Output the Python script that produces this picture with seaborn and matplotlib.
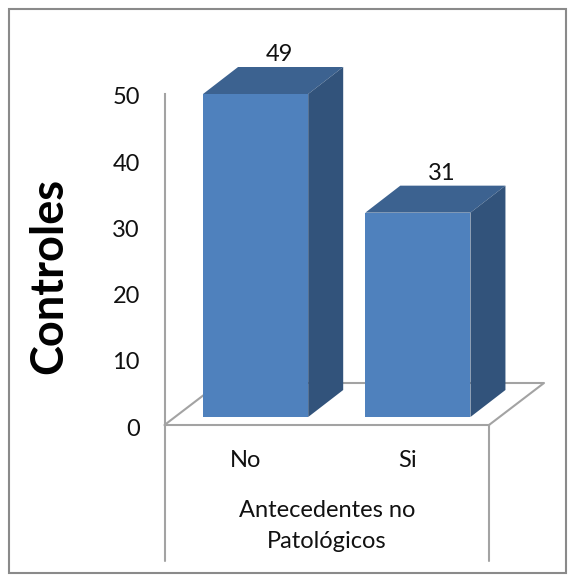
import matplotlib
matplotlib.use("Agg")
import matplotlib.pyplot as plt
from matplotlib.patches import Polygon, Rectangle
from matplotlib.transforms import ScaledTranslation
import seaborn as sns

categories = ["No", "Si"]
values = [49, 31]
axis_ticks = [0, 10, 20, 30, 40, 50]
x_title = "Antecedentes no\nPatológicos"
y_title = "Controles"

W, H = 572, 581
FRONT, TOP, SIDE = "#4F81BD", "#3C6290", "#32537B"
GRID = "#A3A3A3"
FRAME = "#8A8A8A"
TEXT = "#111111"

sns.set_theme(style="white")
plt.rcParams["font.family"] = ["Lato", "DejaVu Sans"]

fig = plt.figure(figsize=(W / 100, H / 100), dpi=100)
L, R, T, B = 164.5, 489.0, 94.0, 425.0
ax = fig.add_axes([L / W, 1 - B / H, (R - L) / W, (B - T) / H])

# Bars stand slightly behind the front edge of the floor
px_per_unit = (417 - 94) / 49
px_per_cat = (R - L) / 2
bar_shift = 10 / px_per_cat
sns.barplot(x=categories, y=values, ax=ax, color=FRONT, saturation=1, width=0.648,
            linewidth=0, zorder=3)
ax.set_xlim(-0.5 - bar_shift, 1.5 - bar_shift)
y0 = -(B - 417) / px_per_unit
ax.set_ylim(y0, 49)

# Oblique projection of the depth, expressed in axis units
dx = 35 / px_per_cat
dy = 27 / px_per_unit

xa, xb = ax.get_xlim()
floor_dx, floor_dy = 55 / px_per_cat, 42 / px_per_unit
ax.plot([xa, xa + floor_dx, xb + floor_dx, xb], [y0, y0 + floor_dy, y0 + floor_dy, y0],
        color=GRID, lw=1.5, clip_on=False, zorder=1)

for bar in ax.patches[:len(values)]:
    x0, w, h = bar.get_x(), bar.get_width(), bar.get_height()
    x1 = x0 + w
    ax.add_patch(Polygon([(x0, h), (x1, h), (x1 + dx, h + dy), (x0 + dx, h + dy)],
                         fc=TOP, ec="none", clip_on=False, zorder=3))
    ax.add_patch(Polygon([(x1, 0), (x1 + dx, dy), (x1 + dx, h + dy), (x1, h)],
                         fc=SIDE, ec="none", clip_on=False, zorder=3))
    ax.text(x0 + w / 2 + 24 / px_per_cat, h + dy + 6 / px_per_unit, f"{h:.0f}", ha="center",
            va="baseline", fontsize=17, color=TEXT, zorder=4)

# Category labels sit centred in the floor's table cells, not under the bars
ax.set_xticks([i - bar_shift for i in range(len(categories))])
ax.set_xticklabels(categories, fontsize=17, color=TEXT)
ax.tick_params(axis="x", length=0, pad=18)
ax.set_yticks([])
ax.set_xlabel("")
ax.set_ylabel("")
for side in ("top", "right", "left"):
    ax.spines[side].set_visible(False)
ax.spines["bottom"].set_color(GRID)
ax.spines["bottom"].set_linewidth(1.5)
ax.patch.set_alpha(0)

# Value scale runs on its own axis, since the floor offsets the bars from zero
scale = ax.twinx()
scale.yaxis.tick_left()
scale.set_ylim(0, 50)
scale.set_yticks(axis_ticks)
scale.tick_params(axis="y", length=0, pad=17, labelsize=17, labelcolor=TEXT)
nudge = ScaledTranslation(-1 / 100, -2 / 100, fig.dpi_scale_trans)
for label in scale.get_yticklabels():
    label.set_transform(label.get_transform() + nudge)
for side in ("top", "right", "bottom"):
    scale.spines[side].set_visible(False)
scale.spines["left"].set_color(GRID)
scale.spines["left"].set_linewidth(1.5)
scale.patch.set_alpha(0)

# Category table dividers under the floor
for x in (L, R):
    fig.add_artist(plt.Line2D([x / W, x / W], [1 - B / H, 1 - 561 / H], color=GRID, lw=1.5))

fig.text((L + R) / 2 / W, 1 - 526 / H, x_title, ha="center", va="center", fontsize=17,
         color=TEXT, linespacing=1.6)
fig.text(49 / W, 1 - 276 / H, y_title, rotation=90, ha="center", va="center",
         fontsize=32.5, fontweight="bold", color="black")

fig.add_artist(Rectangle((8.5 / W, 1 - 573 / H), 557 / W, 564 / H, transform=fig.transFigure,
                         fc="none", ec=FRAME, lw=1.5))

fig.savefig("out.png", dpi=100)
